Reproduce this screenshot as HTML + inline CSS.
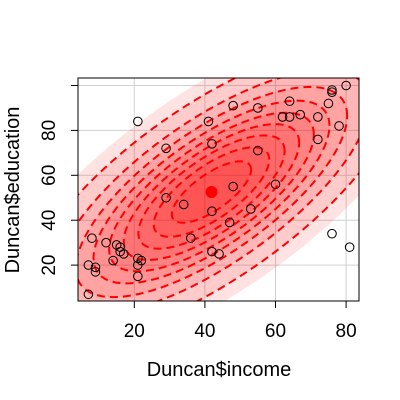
<!DOCTYPE html>
<html><head><meta charset="utf-8"><style>body{margin:0;background:#fff}svg{display:block}text{font-family:"Liberation Sans",sans-serif}</style></head>
<body>
<svg id="c" width="400" height="400"></svg>
<script>
const income=[62,72,75,55,64,21,64,80,67,72,42,76,76,41,48,76,53,60,42,78,29,48,55,29,21,47,81,36,22,44,15,7,42,9,21,21,16,16,9,14,12,17,7,34,8];
const education=[86,76,92,90,86,84,93,100,87,86,74,98,97,84,91,34,45,56,44,82,72,55,71,50,23,39,28,32,22,25,29,7,26,19,15,20,26,28,17,22,30,25,20,47,32];
const levels=[0.1,0.2,0.3,0.4,0.5,0.6,0.7,0.8,0.9];
const outerLevel=0.95;
const xTicks=[20,40,60,80];
const yTicks=[20,40,60,80,100];
const yLabels=["20","40","60","80",""];
const NS="http://www.w3.org/2000/svg",svg=document.getElementById('c');
const L=78,R=359,T=78,B=301;
const sx=v=>63.7+v*3.53, sy=v=>310-v*2.245;
function mk(t,a,p){const e=document.createElementNS(NS,t);for(const k in a)e.setAttribute(k,a[k]);(p||svg).appendChild(e);return e;}
const n=income.length;
const mx=income.reduce((a,b)=>a+b)/n,my=education.reduce((a,b)=>a+b)/n;
let sxx=0,syy=0,sxy=0;for(let i=0;i<n;i++){sxx+=(income[i]-mx)**2;syy+=(education[i]-my)**2;sxy+=(income[i]-mx)*(education[i]-my);}
sxx/=n-1;syy/=n-1;sxy/=n-1;
const a11=Math.sqrt(sxx),a21=sxy/a11,a22=Math.sqrt(syy-a21*a21);
const defs=mk('defs',{});const cp=mk('clipPath',{id:'cl'},defs);mk('rect',{x:L,y:T,width:R-L,height:B-T},cp);
const grid=mk('g',{});
xTicks.forEach(v=>mk('line',{x1:sx(v),x2:sx(v),y1:T,y2:B,stroke:'#d0d0d0'},grid));
yTicks.forEach(v=>mk('line',{x1:L,x2:R,y1:sy(v),y2:sy(v),stroke:'#d0d0d0'},grid));
const eg=mk('g',{'clip-path':'url(#cl)',});
const m=n-1;
function ell(p){
 const f=m/2*(Math.pow(1-p,-2/m)-1),r=Math.sqrt(2*f);
 let d='';for(let k=0;k<=100;k++){const t=2*Math.PI*k/100,c=Math.cos(t),s=Math.sin(t);
  const x=mx+r*a11*c,y=my+r*(a21*c+a22*s);d+=(k?'L':'M')+sx(x).toFixed(2)+','+sy(y).toFixed(2);}
 return d+'Z';
}
const oe=mk('path',{d:ell(outerLevel),fill:'rgba(255,0,0,0.11)',stroke:'none'},eg);


levels.slice().reverse().forEach(p=>{
 const e=mk('path',{d:ell(p),fill:'rgba(255,0,0,0.1)',stroke:'#ff0000','stroke-width':2,'stroke-dasharray':'8,5'},eg);
 
 
});
const pg=mk('g',{});
for(let i=0;i<n;i++){const c=mk('circle',{cx:sx(income[i]),cy:sy(education[i]),r:4.3,fill:'none',stroke:'#000','stroke-width':1},pg);
 
 }
mk('circle',{cx:sx(mx),cy:sy(my),r:6,fill:'#ff0000',});
mk('rect',{x:L,y:T,width:R-L,height:B-T,fill:'none',stroke:'#000',});
const ax=mk('g',{});
mk('line',{x1:sx(20),x2:sx(80),y1:B,y2:B,stroke:'#000'},ax);
xTicks.forEach(v=>{mk('line',{x1:sx(v),x2:sx(v),y1:B,y2:B+7,stroke:'#000'},ax);const t=mk('text',{x:sx(v),y:337,'text-anchor':'middle','font-size':19},ax);t.textContent=v;});
const ay=mk('g',{});
mk('line',{x1:L,x2:L,y1:sy(20),y2:sy(100),stroke:'#000'},ay);
yTicks.forEach((v,i)=>{mk('line',{x1:L,x2:L-7,y1:sy(v),y2:sy(v),stroke:'#000'},ay);const t=mk('text',{x:55,y:sy(v),'text-anchor':'middle','font-size':19,transform:`rotate(-90 55 ${sy(v)})`},ay);t.textContent=yLabels[i];});
let t=mk('text',{x:219,y:376,'text-anchor':'middle','font-size':20,});t.textContent='Duncan$income';
t=mk('text',{x:19,y:190,'text-anchor':'middle','font-size':20,transform:'rotate(-90 19 190)',});t.textContent='Duncan$education';
</script>
</body></html>
